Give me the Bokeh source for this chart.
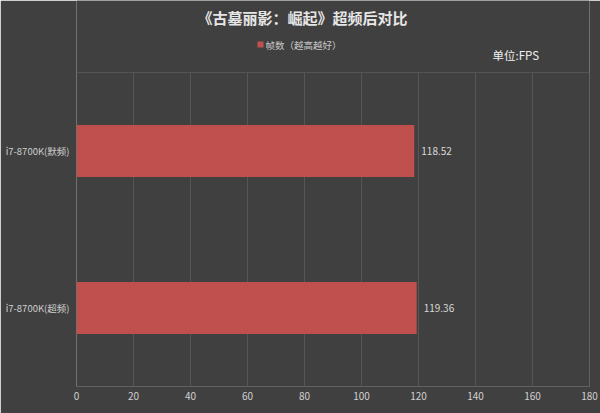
from bokeh.plotting import figure
from bokeh.models import FixedTicker, ColumnDataSource, Range1d
from bokeh.core.properties import value
from bokeh.embed import file_html
from bokeh.resources import INLINE

categories = ["i7-8700K(默频)", "i7-8700K(超频)"]
fps = [118.52, 119.36]
x_ticks = [0, 20, 40, 60, 80, 100, 120, 140, 160, 180]
title_text = "《古墓丽影：崛起》超频后对比"
legend_text = "帧数（越高越好）"
unit_text = "单位:FPS"

BG = "#404040"
BAR = "#C0504D"
GRID = "#555555"
FONT = "Noto Sans CJK SC"

W, H = 600, 413
LEFT, RIGHT, TOP, BOTTOM = 76, 11, 72, 27   # frame margins in px (plot body)
n = len(categories)
body_h = H - TOP - BOTTOM
px_per_y = body_h / n
px_per_x = (W - LEFT - RIGHT) / (x_ticks[-1] - x_ticks[0])
y_top = n + TOP / px_per_y          # extend frame upward to hold the header texts


def hx(page_x):
    return x_ticks[0] + (page_x - LEFT) / px_per_x


def hy(page_y):
    return n + (TOP - page_y) / px_per_y


ypos = [n - i - 0.5 for i in range(n)]
src = ColumnDataSource(dict(y=ypos, v=fps, lab=[f"{v:.2f}" for v in fps]))

p = figure(width=W, height=H, output_backend="svg", toolbar_location=None,
           x_range=Range1d(x_ticks[0], x_ticks[-1]), y_range=Range1d(0, y_top),
           min_border_left=LEFT, min_border_right=RIGHT, min_border_top=0,
           min_border_bottom=BOTTOM)
p.background_fill_color = BG
p.border_fill_color = BG
p.outline_line_color = None
p.xgrid.visible = False
p.ygrid.visible = False

# grid lines confined to the plot body
gx = x_ticks[1:]
p.segment(x0=gx, y0=[0] * len(gx), x1=gx, y1=[n] * len(gx), line_color=GRID, line_width=1)
p.segment(x0=[x_ticks[0]] * 2, y0=[0, n], x1=[x_ticks[-1]] * 2, y1=[0, n],
          line_color=GRID, line_width=1)

p.hbar(y="y", right="v", left=0, height=0.33, source=src, fill_color=BAR, line_color=None)
p.text(x="v", y="y", text="lab", source=src, x_offset=7, text_baseline="middle",
       text_align="left", text_font=value(FONT), text_font_size="10px", text_color="#d8d8d8")

# header texts
p.text(x=[hx(302)], y=[hy(17)], text=[title_text], text_align="center",
       text_baseline="middle", text_font=value(FONT), text_font_size="15px",
       text_font_style="bold", text_color="#e6e6e6")
p.rect(x=[hx(260)], y=[hy(44)], width=6, height=6, width_units="screen",
       height_units="screen", fill_color=BAR, line_color=None)
p.text(x=[hx(265)], y=[hy(44)], text=[legend_text], text_align="left",
       text_baseline="middle", text_font=value(FONT), text_font_size="9.5px",
       text_color="#c8c8c8")
p.text(x=[hx(492)], y=[hy(54)], text=[unit_text], text_align="left",
       text_baseline="middle", text_font=value(FONT), text_font_size="11.5px",
       text_color="#f0f0f0")

p.xaxis.ticker = FixedTicker(ticks=x_ticks)
p.xaxis.axis_line_color = None
p.xaxis.major_tick_line_color = None
p.xaxis.minor_tick_line_color = None
p.xaxis.major_tick_out = 0
p.xaxis.major_tick_in = 0
p.xaxis.major_label_text_color = "#d0d0d0"
p.xaxis.major_label_text_font = FONT
p.xaxis.major_label_text_font_size = "10px"
p.xaxis.major_label_standoff = 5

p.yaxis.ticker = FixedTicker(ticks=ypos)
p.yaxis.major_label_overrides = {y: c for y, c in zip(ypos, categories)}
p.yaxis.axis_line_color = None
p.yaxis.major_tick_line_color = None
p.yaxis.minor_tick_line_color = None
p.yaxis.major_tick_out = 0
p.yaxis.major_tick_in = 0
p.yaxis.major_label_text_color = "#d0d0d0"
p.yaxis.major_label_text_font = FONT
p.yaxis.major_label_text_font_size = "9.5px"
p.yaxis.major_label_standoff = 7

open("out.html", "w").write(file_html(p, INLINE))
